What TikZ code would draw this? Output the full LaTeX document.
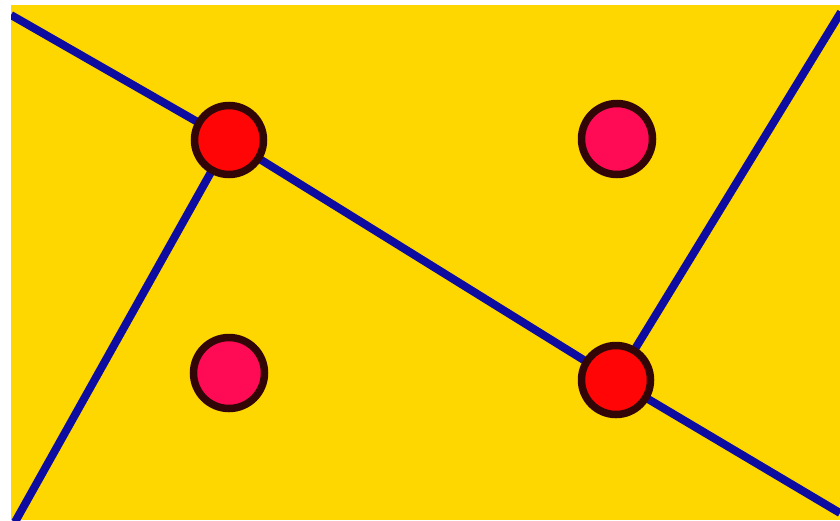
\documentclass[tikz,border=0pt]{standalone}
\definecolor{bgyellow}{RGB}{255,215,0}
\definecolor{linkblue}{RGB}{14,12,160}
\definecolor{rimbrown}{RGB}{50,6,6}
\definecolor{hubred}{RGB}{255,5,5}
\definecolor{sitepink}{RGB}{255,10,85}
\tikzset{
  link/.style={draw=linkblue,line width=8pt,line join=round},
  hub/.style={circle,draw=rimbrown,line width=7.5pt,fill=hubred,minimum size=69pt,inner sep=0pt},
  site/.style={circle,draw=rimbrown,line width=7.5pt,fill=sitepink,minimum size=71pt,inner sep=0pt}
}
\begin{document}
\begin{tikzpicture}[x=1pt,y=-1pt]
\useasboundingbox (0,0) rectangle (840,520);
\fill[white] (0,0) rectangle (840,520);
\fill[bgyellow] (11,5) rectangle (840,520);
\coordinate (p1) at (229,140);
\coordinate (p2) at (616,380);
\coordinate (tl) at (11,15);
\coordinate (br) at (840,513);
\coordinate (bl) at (15,522);
\coordinate (tr) at (841,12);
\begin{scope}
\clip (11,5) rectangle (840,520);
\draw[link] (tl) -- (p1) -- (p2) -- (br);
\draw[link] (p1) -- (bl);
\draw[link] (p2) -- (tr);
\end{scope}
\node[hub] (h1) at (p1) {};
\node[hub] (h2) at (p2) {};
\node[site] (s1) at (229,373) {};
\node[site] (s2) at (617,139) {};
\end{tikzpicture}
\end{document}
